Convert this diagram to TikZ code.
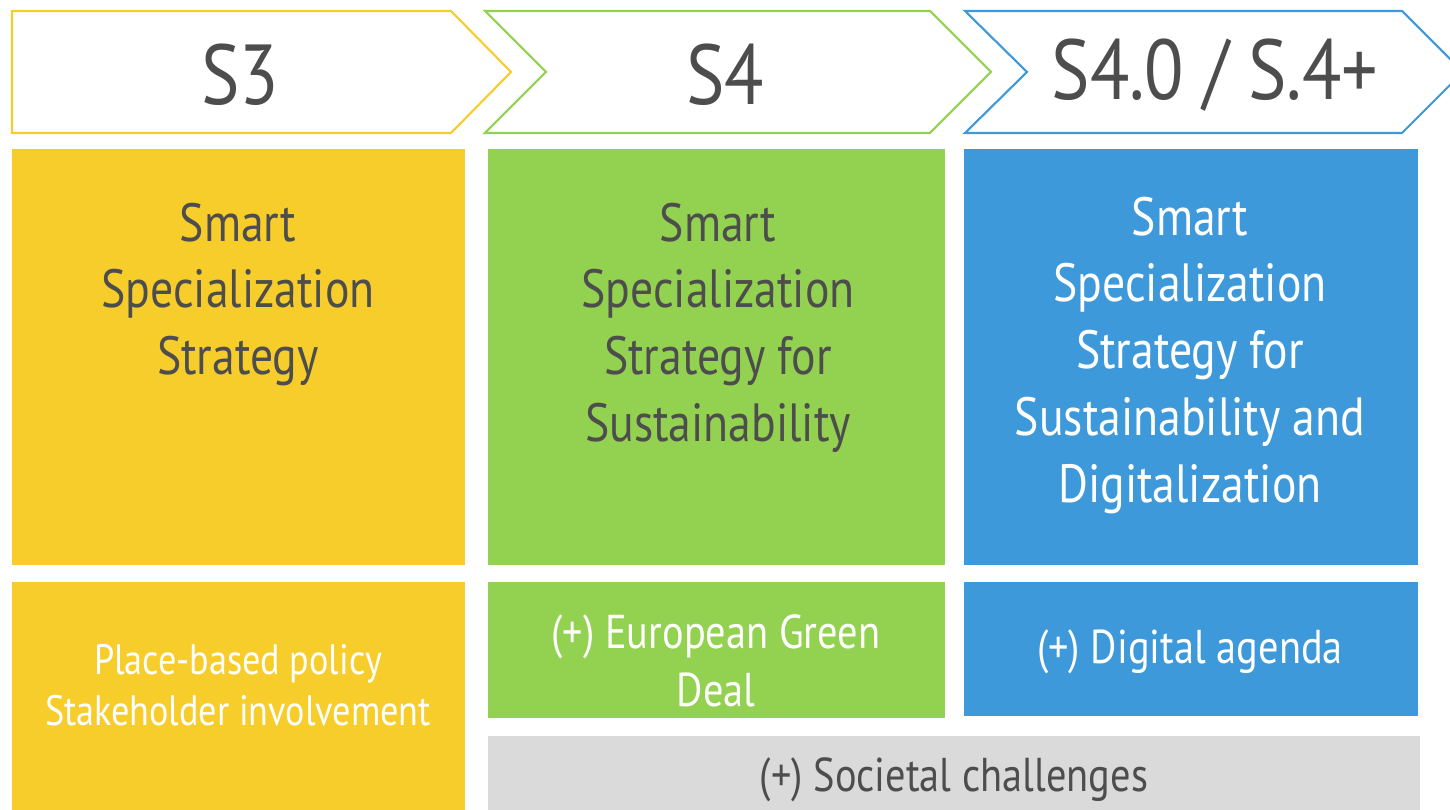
\documentclass[tikz,border=0pt]{standalone}
\usepackage{fontspec}
\setmainfont{PT Sans}[FakeStretch=0.85]
\definecolor{sthree}{HTML}{F6CD2A}
\definecolor{sfour}{HTML}{93D150}
\definecolor{sdigi}{HTML}{3D99DA}
\definecolor{sgrey}{HTML}{DADADA}
\definecolor{ink}{HTML}{4D4D4D}
\tikzset{
  chev/.style={line width=0.6pt, fill=white},
  tag/.style={text=ink, font=\fontsize{24.2}{30}\selectfont, inner sep=0pt},
  title/.style={anchor=north, align=center, inner sep=0pt, font=\fontsize{15.3}{19}\selectfont},
  extra/.style={align=center, inner sep=0pt, font=\fontsize{12.1}{14.5}\selectfont},
}
\begin{document}
\begin{tikzpicture}[x=0.01cm, y=-0.01cm]
    \useasboundingbox (0,0) rectangle (1450,810);
    \clip (0,0) rectangle (1450,810);

    \draw[chev, draw=sthree] (12,11) -- (451,11) -- (511,72) -- (451,133) -- (12,133) -- cycle;
    \draw[chev, draw=sfour] (485,11) -- (930,11) -- (991,72) -- (930,133) -- (485,133) -- (546,72) -- cycle;
    \draw[chev, draw=sdigi] (965,11) -- (1402,11) -- (1463,72) -- (1402,133) -- (965,133) -- (1027,72) -- cycle;
    \node[tag] (s3) at (240,75) {S3};
    \node[tag] (s4) at (725,75) {S4};
    \node[tag] (s4p) at (1215,75) {S4.0 / S.4+};

    \fill[sthree] (12,149) rectangle (465,565);
    \fill[sfour] (488,149) rectangle (945,565);
    \fill[sdigi] (964,149) rectangle (1418,565);
    \node[title, text=ink] (A) at (238,202) {Smart\\Specialization\\Strategy};
    \node[title, text=ink] (B) at (718,202) {Smart\\Specialization\\Strategy for\\Sustainability};
    \node[title, text=white] (C) at (1190,196) {Smart\\Specialization\\Strategy for\\Sustainability and\\Digitalization};

    \fill[sthree] (12,582) rectangle (465,815);
    \fill[sfour] (488,582) rectangle (945,718);
    \fill[sdigi] (964,582) rectangle (1418,716);
    \fill[sgrey] (488,736) rectangle (1420,815);
    \node[extra, text=white] (A1) at (238,685) {Place-based policy\\Stakeholder involvement};
    \node[extra, text=white, font=\fontsize{13.5}{16.5}\selectfont] (B1) at (716,661) {(+) European Green\\Deal};
    \node[extra, text=white, font=\fontsize{13.5}{16.5}\selectfont] (C1) at (1190,652) {(+) Digital agenda};
    \node[extra, text=ink, font=\fontsize{13.5}{16.5}\selectfont] (D1) at (954,780) {(+) Societal challenges};
\end{tikzpicture}
\end{document}
